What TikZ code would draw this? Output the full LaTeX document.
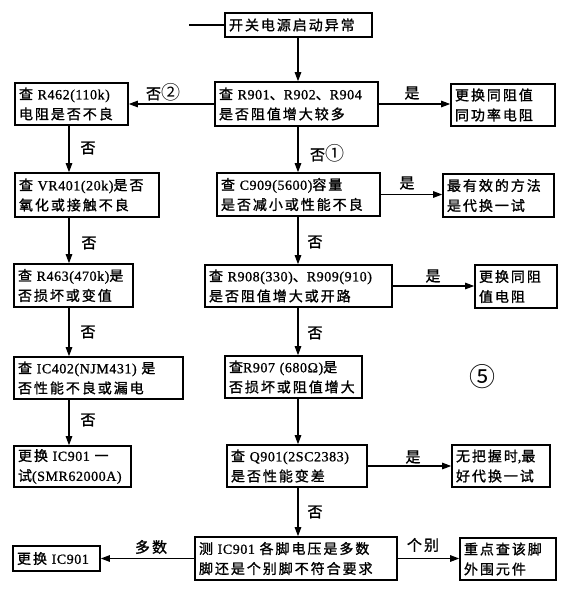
\documentclass[tikz,border=0pt]{standalone}
\usepackage{fontspec}
\usetikzlibrary{arrows.meta}
\newfontfamily\cjk{Noto Sans CJK SC}[LetterSpace=14,FakeBold=1.2]
\newfontfamily\cjkthin{Noto Sans CJK SC}
\newfontfamily\latf{Liberation Serif}[LetterSpace=4,FakeBold=1]
\newcommand\lat[1]{{\latf #1}}
\newcommand\circd[1]{{\cjkthin\fontsize{19pt}{19pt}\selectfont #1}}
\newcommand\boxfont{\cjk\fontsize{14pt}{20pt}\selectfont}
\newcommand\labfont{\cjk\fontsize{15pt}{18pt}\selectfont}
\tikzset{
  box/.style={draw, line width=1.6pt, inner xsep=4pt, inner ysep=0pt, align=left, font=\boxfont},
  arr/.style={line width=1.1pt, -{Triangle[length=9pt,width=6.5pt]}},
  lab/.style={font=\labfont, inner sep=0pt},
}
\begin{document}
\begin{tikzpicture}[x=1pt,y=-1pt]
\useasboundingbox (0,0) rectangle (567,590);
\coordinate (cx) at (298,0);
\coordinate (lx) at (69,0);
\coordinate (start) at (189,25);
% boxes
\node[box, text width=139pt, minimum height=24pt] (T) at (298.5,25) {开关电源启动异常};
\node[box, text width=155pt, minimum height=44pt] (A) at (296.5,104) {查\lat{ R901}、\lat{R902}、\lat{R904}\\是否阻值增大较多};
\node[box, text width=105pt, minimum height=42pt] (L1) at (71.5,104) {查\lat{ R462(110k)}\\电阻是否不良};
\node[box, text width=96pt, minimum height=42pt] (R1) at (503,105) {更换同阻值\\同功率电阻};
\node[box, text width=155pt, minimum height=43pt] (B) at (298.5,194.5) {查\lat{ C909(5600)}容量\\是否减小或性能不良};
\node[box, text width=136pt, minimum height=44pt] (L2) at (87,195) {查\lat{ VR401(20k)}是否\\氧化或接触不良};
\node[box, text width=103pt, minimum height=43pt] (R2) at (498.5,195.5) {最有效的方法\\是代换一试};
\node[box, text width=179pt, minimum height=42pt] (C) at (298.5,286) {查\lat{ R908(330)}、\lat{R909(910)}\\是否阻值增大或开路};
\node[box, text width=111pt, minimum height=43pt] (L3) at (73.5,285.5) {查\lat{ R463(470k)}是\\否损坏或变值};
\node[box, text width=74pt, minimum height=43pt] (R3) at (516,286.5) {更换同阻\\值电阻};
\node[box, text width=129pt, minimum height=42pt] (D) at (293.5,377) {查\lat{R907 (680Ω)}是\\否损坏或阻值增大};
\node[box, text width=161pt, minimum height=42pt] (L4) at (98.5,378) {查\lat{ IC402(NJM431) }是\\否性能不良或漏电};
\node[box, text width=132pt, minimum height=42pt] (E) at (297,466) {查\lat{ Q901(2SC2383)}\\是否性能变差};
\node[box, text width=109pt, minimum height=41pt] (L5) at (72.5,466.5) {更换\lat{ IC901 }一\\试\lat{(SMR62000A)}};
\node[box, text width=90pt, minimum height=42pt] (R5) at (501,466) {无把握时\lat{,}最\\好代换一试};
\node[box, text width=194pt, minimum height=43pt] (F) at (296,558.5) {测\lat{ IC901 }各脚电压是多数\\脚还是个别脚不符合要求};
\node[box, text width=79pt, minimum height=25pt] (L6) at (56.5,558.5) {更换\lat{ IC901}};
\node[box, text width=88pt, minimum height=42pt] (R6) at (508,559) {重点查该脚\\外围元件};
% labels
\node[lab] (l1) at (163,92) {否\circd{②}};
\node[lab] (l2) at (412,93) {是};
\node[lab] (l3) at (327,153) {否\circd{①}};
\node[lab] (l4) at (88,148) {否};
\node[lab] (l5) at (407,183) {是};
\node[lab] (l6) at (89,243) {否};
\node[lab] (l7) at (315,242) {否};
\node[lab] (l8) at (433,276) {是};
\node[lab] (l9) at (88,332) {否};
\node[lab] (l10) at (315,333) {否};
\node[lab] (l11) at (88,420) {否};
\node[lab] (l12) at (413,457) {是};
\node[lab] (l13) at (315,512) {否};
\node[lab] (l14) at (151,547) {多数};
\node[lab] (l15) at (423,545) {个别};
\node[lab, font=\cjkthin\fontsize{26pt}{28pt}\selectfont] (l16) at (482,377) {⑤};
% connectors
\draw[line width=1.1pt] (start) -- (T.west);
\draw[arr] (T.south -| cx) -- (A.north -| cx);
\draw[arr] (A.west) -- (L1.east |- A.west);
\draw[arr] (A.east) -- (R1.west |- A.east);
\draw[arr] (A.south -| cx) -- (B.north -| cx);
\draw[arr] (L1.south -| lx) -- (L2.north -| lx);
\draw[arr] (B.east) -- (R2.west |- B.east);
\draw[arr] (B.south -| cx) -- (C.north -| cx);
\draw[arr] (L2.south -| lx) -- (L3.north -| lx);
\draw[arr] (C.east) -- (R3.west |- C.east);
\draw[arr] (C.south -| cx) -- (D.north -| cx);
\draw[arr] (L3.south -| lx) -- (L4.north -| lx);
\draw[arr] (D.south -| cx) -- (E.north -| cx);
\draw[arr] (L4.south -| lx) -- (L5.north -| lx);
\draw[arr] (E.east) -- (R5.west |- E.east);
\draw[arr] (E.south -| cx) -- (F.north -| cx);
\draw[arr] (F.west) -- (L6.east |- F.west);
\draw[arr] (F.east) -- (R6.west |- F.east);
\end{tikzpicture}
\end{document}
